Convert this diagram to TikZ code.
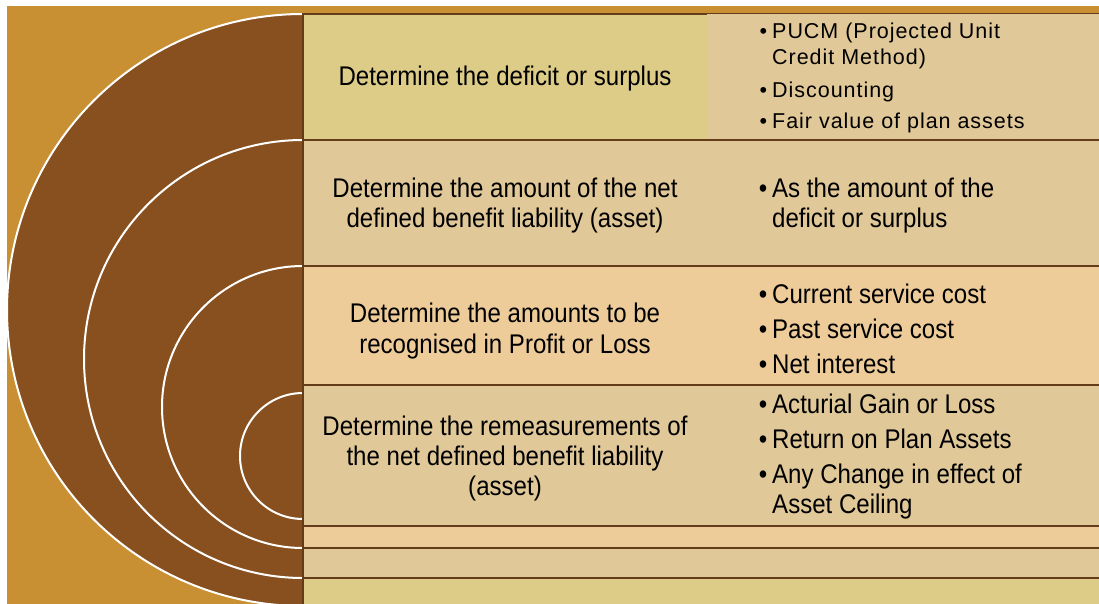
\documentclass[tikz,border=0pt]{standalone}
\usepackage{fontspec}
\setmainfont{Liberation Sans}[FakeStretch=0.891]
\newfontfamily\rowonefont{Liberation Sans}[LetterSpace=4.5]
\definecolor{goldbg}{HTML}{C89032}
\definecolor{brownfill}{HTML}{87501E}
\definecolor{edgecol}{HTML}{643C19}
\definecolor{khaki}{HTML}{DDCC87}
\definecolor{tan}{HTML}{E0C898}
\definecolor{peach}{HTML}{EDCC99}
\newcommand\mybul{\llap{\textbullet\hspace{5pt}}}
\begin{document}
\begin{tikzpicture}[x=1pt,y=-1pt,
  cell/.style={draw=edgecol, line width=2pt},
  thinline/.style={draw=edgecol, line width=1pt},
  arcline/.style={draw=white, line width=2pt},
  lefttxt/.style={anchor=base, inner sep=0pt, font=\fontsize{27}{31}\selectfont},
  bultxt/.style={anchor=base west, inner sep=0pt, font=\fontsize{27}{31}\selectfont},
  bulsmall/.style={anchor=base west, inner sep=0pt, font=\rowonefont\fontsize{21.5}{26}\selectfont}]
\useasboundingbox (0,0) rectangle (1099,604);
\fill[white] (0,0) rectangle (1099,604);
\fill[goldbg] (7,6) rectangle (1099,604);
% concentric arcs
\begin{scope}
  \clip (0,0) rectangle (303,604);
  \fill[brownfill] (303,310) circle[radius=296];
  \draw[arcline] (303,310) circle[radius=296];
  \draw[arcline] (303,359) circle[radius=219];
  \draw[arcline] (303,407) circle[radius=141];
  \draw[arcline] (303,456) circle[radius=63];
\end{scope}
% rows
\fill[tan] (707,14) rectangle (1099,141);
\draw[thinline] (707,14) -- (1102,14);
\draw[thinline] (707,141) -- (1102,141);
\fill[khaki] (303,14) rectangle (707,140);
\draw[cell] (707,14) -- (303,14) -- (303,140) -- (707,140);
\filldraw[fill=tan, cell] (303,140) rectangle (1102,266);
\filldraw[fill=peach, cell] (303,266) rectangle (1102,385);
\filldraw[fill=tan, cell] (303,385) rectangle (1102,526);
\filldraw[fill=peach, cell] (303,526) rectangle (1102,548);
\filldraw[fill=tan, cell] (303,548) rectangle (1102,578);
\filldraw[fill=khaki, cell] (303,578) rectangle (1102,608);
% left texts
\node[lefttxt] (s1) at (505,86) {Determine the deficit or surplus};
\node[lefttxt] (s2a) at (505,197) {Determine the amount of the net};
\node[lefttxt] (s2b) at (505,227) {defined benefit liability (asset)};
\node[lefttxt] (s3a) at (505,322) {Determine the amounts to be};
\node[lefttxt] (s3b) at (505,353) {recognised in Profit or Loss};
\node[lefttxt] (s4a) at (505,435) {Determine the remeasurements of};
\node[lefttxt] (s4b) at (505,465) {the net defined benefit liability};
\node[lefttxt] (s4c) at (505,495) {(asset)};
% right bullets
\node[bulsmall] (b1a) at (772,39) {\mybul PUCM (Projected Unit};
\node[bulsmall] (b1b) at (772,65) {Credit Method)};
\node[bulsmall] (b1c) at (772,98) {\mybul Discounting};
\node[bulsmall] (b1d) at (772,129) {\mybul Fair value of plan assets};
\node[bultxt] (b2a) at (772,197) {\mybul As the amount of the};
\node[bultxt] (b2b) at (772,227) {deficit or surplus};
\node[bultxt] (b3a) at (772,303) {\mybul Current service cost};
\node[bultxt] (b3b) at (772,338) {\mybul Past service cost};
\node[bultxt] (b3c) at (772,373) {\mybul Net interest};
\node[bultxt] (b4a) at (772,413) {\mybul Acturial Gain or Loss};
\node[bultxt] (b4b) at (772,448) {\mybul Return on Plan Assets};
\node[bultxt] (b4c) at (772,483) {\mybul Any Change in effect of};
\node[bultxt] (b4d) at (772,513) {Asset Ceiling};
\end{tikzpicture}
\end{document}
